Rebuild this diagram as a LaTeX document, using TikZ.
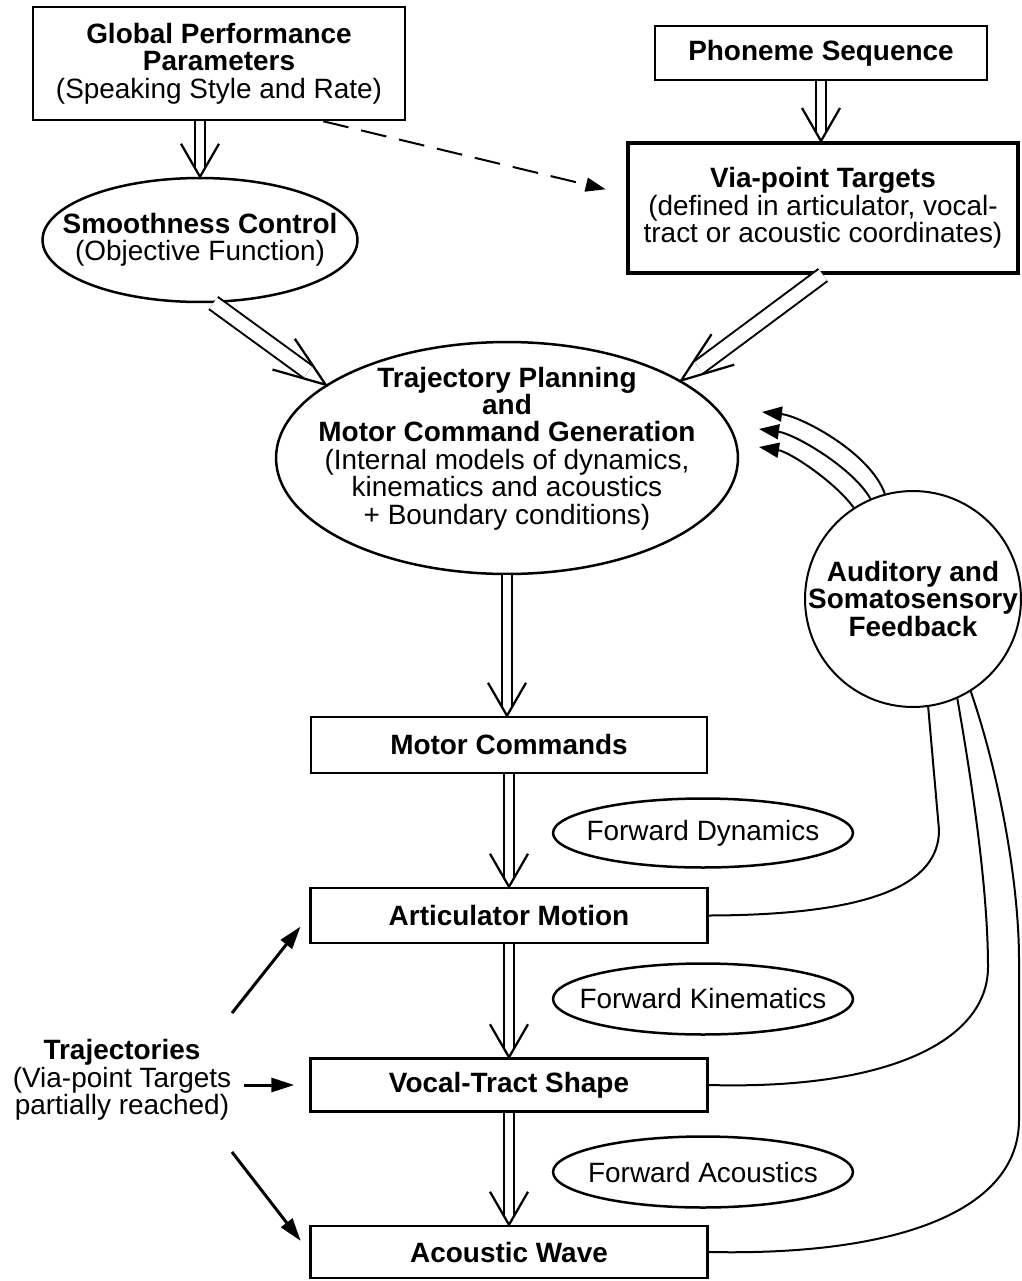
\documentclass[tikz,border=0pt]{standalone}
\usepackage{fontspec}
\setmainfont{Liberation Sans}
\usetikzlibrary{arrows.meta,calc,shapes.geometric}

\tikzset{
  box/.style={draw, line width=0.05cm, rectangle, inner sep=0pt, align=center},
  oval/.style={draw, line width=0.05cm, ellipse, inner sep=-1cm, align=center},
  dblline/.style={line width=0.04cm, double, double distance=0.16cm},
  vhead/.style={line width=0.045cm, line join=miter},
  fbline/.style={line width=0.04cm},
  fbarrow/.style={line width=0.04cm, -{Triangle[length=0.4cm,width=0.3cm]}},
  trajarrow/.style={line width=0.06cm, -{Triangle[length=0.46cm,width=0.28cm]}},
}

% open double arrow: #1 gap, #2 head length, #3 from, #4 to
\newcommand{\dblarrow}[4]{%
  \pgfmathsetmacro{\dblcut}{(#1/2+0.03)*#2/0.38}
  \draw[dblline, double distance=#1cm] (#3) -- ($(#4)!\dblcut cm!(#3)$);
  \draw[vhead] ($(#4)!#2cm!(#3)!0.38cm!90:(#3)$) -- (#4)
    -- ($(#4)!#2cm!(#3)!0.38cm!-90:(#3)$);
}

\begin{document}
\begin{tikzpicture}[x=0.02cm, y=-0.02cm, font=\fontsize{15.9}{15.6}\selectfont]
\useasboundingbox (0,0) rectangle (1021,1281);

% Inputs
\node[box, minimum width=7.44cm, minimum height=2.26cm] (glob) at (219,63.5)
  {\textbf{Global Performance}\\\textbf{Parameters}\\(Speaking Style and Rate)};
\node[box, minimum width=6.64cm, minimum height=1.08cm] (phon) at (821,53)
  {\textbf{Phoneme Sequence}};
\node[box, line width=0.08cm, minimum width=7.8cm, minimum height=2.6cm] (via) at (823,208)
  {\textbf{Via-point Targets}\\(defined in articulator, vocal-\\tract or acoustic coordinates)};
\node[oval, minimum width=6.3cm, minimum height=2.48cm] (smooth) at (200,240)
  {\textbf{Smoothness Control}\\(Objective Function)};

% Planner
\node[oval, text depth=0.5cm, minimum width=9.24cm, minimum height=4.64cm] (plan) at (507,458)
  {\textbf{Trajectory Planning}\\\textbf{and}\\\textbf{Motor Command Generation}\\
   (Internal models of dynamics,\\kinematics and acoustics\\+ Boundary conditions)};
\node[draw, circle, line width=0.04cm, inner sep=-0.5cm, minimum size=4.32cm, align=center]
  (fb) at (913,599) {\textbf{Auditory and}\\\textbf{Somatosensory}\\\textbf{Feedback}};

% Forward chain
\node[box, minimum width=7.92cm, minimum height=1.12cm] (mc) at (509,745) {\textbf{Motor Commands}};
\node[box, minimum width=7.94cm, minimum height=1.1cm] (art) at (509,915.5) {\textbf{Articulator Motion}};
\node[box, minimum width=7.94cm, minimum height=1.06cm] (vt) at (509,1085) {\textbf{Vocal-Tract Shape}};
\node[box, minimum width=7.94cm, minimum height=1.04cm] (aw) at (509,1252) {\textbf{Acoustic Wave}};
\node[oval, minimum width=6cm, minimum height=1.38cm] (fd) at (703,833) {Forward Dynamics};
\node[oval, minimum width=6cm, minimum height=1.42cm] (fk) at (703,999) {Forward Kinematics};
\node[oval, minimum width=6cm, minimum height=1.42cm] (fa) at (703,1172) {Forward Acoustics};

\node[align=center, inner sep=0pt] (trajs) at (122,1080)
  {\textbf{Trajectories}\\(Via-point Targets\\partially reached)};

% Double arrows
\dblarrow{0.16}{0.66}{smooth.north |- glob.south}{smooth.north}
\dblarrow{0.16}{0.66}{phon.south}{phon.south |- via.north}
\dblarrow{0.26}{1.04}{smooth.-78}{plan.158}
\dblarrow{0.26}{1.04}{via.south}{plan.24}
\dblarrow{0.16}{0.66}{plan.south}{plan.south |- mc.north}
\dblarrow{0.16}{0.66}{mc.south}{mc.south |- art.north}
\dblarrow{0.16}{0.66}{art.south}{art.south |- vt.north}
\dblarrow{0.16}{0.66}{vt.south}{vt.south |- aw.north}

% Style and rate also set the targets
\draw[line width=0.04cm, dash pattern=on 0.52cm off 0.26cm,
  -{Triangle[length=0.4cm,width=0.28cm]}, shorten >=0.42cm] (glob.-29) -- (via.176);

% Feedback into the planner
\coordinate (in1) at (759,447);
\coordinate (in2) at (759,429);
\coordinate (in3) at (762,412);
\draw[fbarrow] (fb.123) .. controls (835,482) and (790,452) .. (in1);
\draw[fbarrow] (fb.113) .. controls (853,468) and (795,434) .. (in2);
\draw[fbarrow] (fb.105) .. controls (870,452) and (800,416) .. (in3);

% Feedback from the plant
\coordinate (c1) at (939,830);
\coordinate (c2) at (988,967);
\draw[fbline] (art.east) .. controls (870,915) and (939,885) .. (c1) -- (fb.-82);
\draw[fbline] (vt.east) .. controls (890,1090) and (988,1040) .. (c2)
  .. controls (988,880) and (968,760) .. (fb.-66);
\draw[fbline] (aw.east) .. controls (900,1256) and (1019,1210) .. (1019,1120)
  -- (1019,960) .. controls (1019,880) and (998,770) .. (fb.-58);

% Trajectories
\coordinate (tr1) at (232,1013);
\coordinate (tr3) at (232,1152);
\draw[trajarrow, shorten >=0.28cm] (tr1) -- (art.west);
\draw[trajarrow, shorten <=0.24cm, shorten >=0.3cm] (trajs.east |- vt.west) -- (vt.west);
\draw[trajarrow, shorten >=0.28cm] (tr3) -- (aw.west);

\end{tikzpicture}
\end{document}
